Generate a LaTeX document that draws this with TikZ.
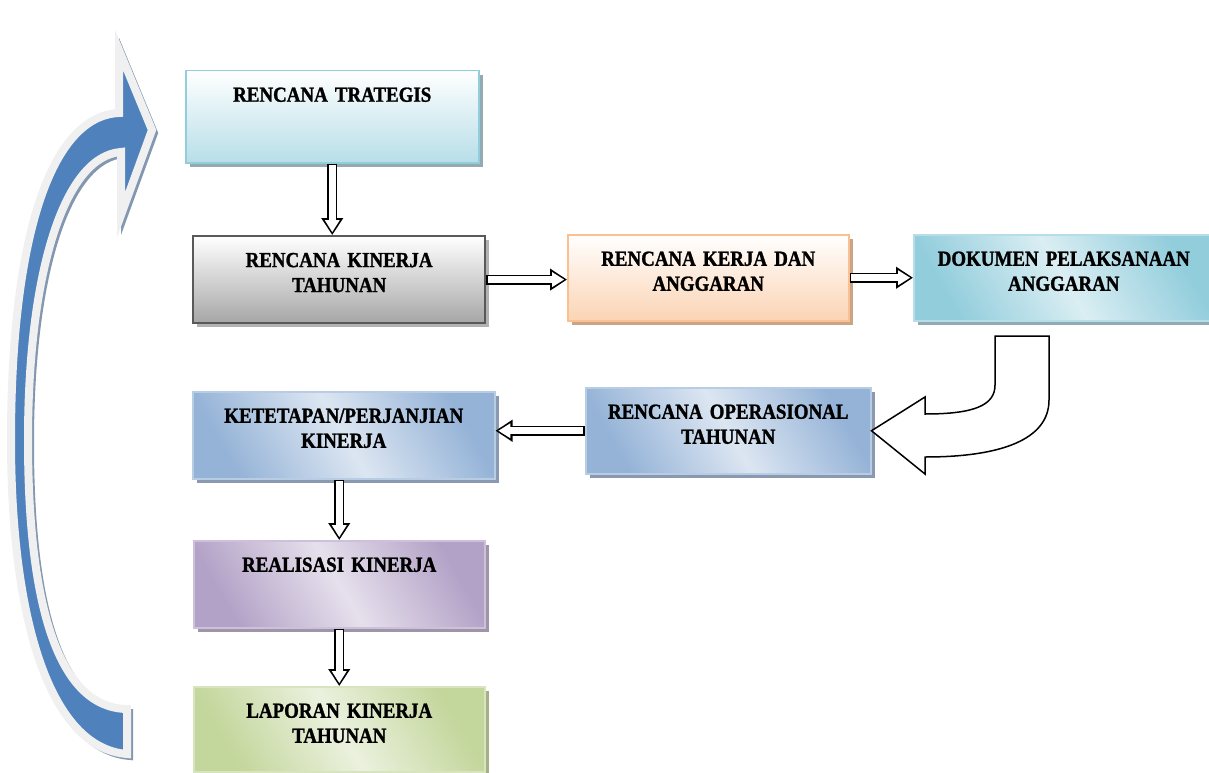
\documentclass[tikz,border=0pt]{standalone}
\usepackage{fontspec}
\usepackage{tikz}
\usetikzlibrary{arrows.meta,positioning,shadings,shadows}
\newfontfamily\kotakfont{Liberation Serif}[FakeStretch=0.88, WordSpace=0.75, BoldFeatures={FakeBold=1.3}]
\definecolor{cyanbingkai}{HTML}{92CDDC}
\definecolor{cyanmuda}{HTML}{B7DEE8}
\definecolor{cyanterang}{HTML}{DAEEF3}
\definecolor{abutua}{HTML}{595959}
\definecolor{abu}{HTML}{A6A6A6}
\definecolor{oranye}{HTML}{FBD4B4}
\definecolor{oranyebingkai}{HTML}{FAC090}
\definecolor{biru}{HTML}{95B3D7}
\definecolor{biruterang}{HTML}{DCE6F2}
\definecolor{birubingkai}{HTML}{B8CCE4}
\definecolor{ungu}{HTML}{B3A2C7}
\definecolor{unguterang}{HTML}{E6E0EC}
\definecolor{ungubingkai}{HTML}{CCC0DA}
\definecolor{hijau}{HTML}{C3D69B}
\definecolor{hijauterang}{HTML}{EBF1DE}
\definecolor{hijaubingkai}{HTML}{D7E4BD}
\definecolor{birupanah}{HTML}{4F81BD}
\definecolor{abubayang}{HTML}{8497B0}
\definecolor{bayangcyan}{HTML}{92AAB1}
\definecolor{bayangoranye}{HTML}{C8A587}
\definecolor{bayangbiru}{HTML}{8A99B0}
\definecolor{bayangungu}{HTML}{9E95A8}
\definecolor{bayanghijau}{HTML}{A5B089}
\tikzset{
  kotak/.style={draw=#1, line width=1.5pt, inner sep=0pt, align=center, anchor=north west,
    text height=31pt, font=\kotakfont\bfseries\fontsize{21.5}{25}\selectfont},
  bayangan/.style={drop shadow={fill=#1, opacity=1, shadow xshift=4pt, shadow yshift=-4pt}},
  diagonal/.style n args={2}{top color=#1, bottom color=#1, middle color=#2, shading angle=-60},
  panah/.style={line width=10pt, draw=black, -{Triangle[length=17pt,width=21pt]},
    postaction={draw=white, line width=6.6pt, shorten <=1.8pt, shorten >=2.8pt,
      -{Triangle[length=12pt,width=14pt]}}},
  panahbesar/.style={fill=birupanah, draw=gray!12, line width=8pt, miter limit=20},
  panahbelok/.style={fill=white, draw=black, line width=1.5pt}
}

\begin{document}
\begin{tikzpicture}[x=1pt,y=-1pt]
  \useasboundingbox (0,0) rectangle (1209,773);
  % kotak-kotak
  \node[kotak=cyanbingkai, bayangan=bayangcyan, top color=white, bottom color=cyanmuda,
    text width=293pt, text depth=61pt] (strategis) at (185,70) {RENCANA TRATEGIS};
  \node[kotak=abutua, line width=2.2pt, bayangan=gray!60, top color=white, bottom color=abu,
    text width=292pt, text depth=56pt] (kinerja) at (192,235) {RENCANA KINERJA\\TAHUNAN};
  \node[kotak=oranyebingkai, bayangan=bayangoranye, top color=white, bottom color=oranye,
    text width=281pt, text depth=55pt] (kerja) at (567,234) {RENCANA KERJA DAN\\ANGGARAN};
  \node[kotak=cyanmuda, bayangan=bayangcyan, diagonal={cyanbingkai}{cyanterang},
    text width=300pt, text depth=55pt] (dokumen) at (913,234) {DOKUMEN PELAKSANAAN\\ANGGARAN};
  \node[kotak=birubingkai, bayangan=bayangbiru, diagonal={biru}{biruterang},
    text width=285pt, text depth=55pt] (operasional) at (585,387) {RENCANA OPERASIONAL\\TAHUNAN};
  \node[kotak=birubingkai, bayangan=bayangbiru, diagonal={biru}{biruterang},
    text width=302pt, text depth=56pt] (ketetapan) at (192,391) {KETETAPAN/PERJANJIAN\\KINERJA};
  \node[kotak=ungubingkai, bayangan=bayangungu, diagonal={ungu}{unguterang},
    text width=291pt, text depth=56pt] (realisasi) at (193,540) {REALISASI KINERJA};
  \node[kotak=hijaubingkai, bayangan=bayanghijau, diagonal={hijau}{hijauterang},
    text width=291pt, text depth=54pt] (laporan) at (193,686) {LAPORAN KINERJA\\TAHUNAN};
  % panah berongga
  \draw[panah] (strategis.south) -- (strategis.south |- kinerja.north);
  \draw[panah] (kinerja.east) -- (kinerja.east -| kerja.west);
  \draw[panah] (kerja.east) -- (kerja.east -| dokumen.west);
  \draw[panah] (operasional.west) -- (operasional.west -| ketetapan.east);
  \draw[panah] (realisasi.north |- ketetapan.south) -- (realisasi.north);
  \draw[panah] (realisasi.south) -- (laporan.north);
  % panah belok dari dokumen ke operasional
  \draw[panahbelok] (995,336) -- (1049,336) -- (1049,400)
    .. controls (1049,440) and (1000,457) .. (925,457) -- (925,474) -- (operasional.east)
    -- (925,397) -- (925,414) .. controls (975,414) and (995,405) .. (995,385) -- cycle;
  % panah lengkung besar di kiri
  \draw[panahbesar, draw=abubayang, fill=abubayang, line width=6pt, shift={(3,3)}]
    (127,754) .. controls (50,748) and (11,620) .. (11,440)
    .. controls (11,240) and (50,116) .. (119,113) -- (119,50) -- (152,130) -- (121,215) -- (121,152)
    .. controls (65,156) and (28,270) .. (28,440) .. controls (28,610) and (60,708) .. (127,709) -- cycle;
  \draw[panahbesar]
    (127,754) .. controls (50,748) and (11,620) .. (11,440)
    .. controls (11,240) and (50,116) .. (119,113) -- (119,50) -- (152,130) -- (121,215) -- (121,152)
    .. controls (65,156) and (28,270) .. (28,440) .. controls (28,610) and (60,708) .. (127,709) -- cycle;
\end{tikzpicture}
\end{document}
